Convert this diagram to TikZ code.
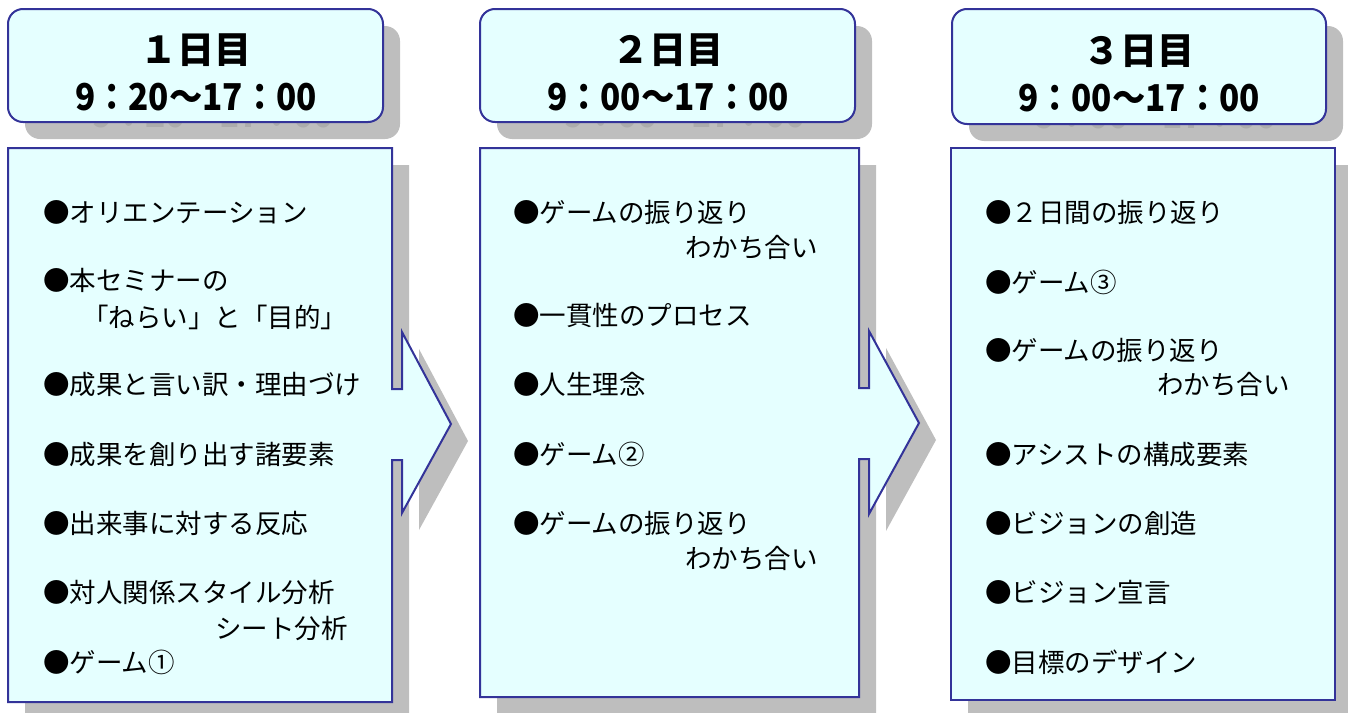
\documentclass[tikz,border=0pt]{standalone}
\usepackage{fontspec}
\usepackage{graphicx}
\setmainfont{Noto Sans CJK JP}
\definecolor{boxfill}{HTML}{E5FFFF}
\definecolor{boxline}{HTML}{333399}
\definecolor{shadowgray}{HTML}{BEBEBE}
\definecolor{ghostgray}{HTML}{ACACAC}
\newcommand{\narrowtime}[1]{\scalebox{0.9}[1]{#1}}
\tikzset{
  shapebox/.style={fill=boxfill, draw=boxline, line width=2pt, line join=miter},
  shadowbox/.style={fill=shadowgray, draw=none},
  headtext/.style={inner sep=0pt, font=\fontsize{37}{44}\selectfont\bfseries, anchor=base},
  itemtext/.style={inner sep=0pt, font=\fontsize{26.5}{32}\selectfont, anchor=base west},
  boxApath/.style={insert path={(8,148) -- (392,148) -- (392,389) -- (402,389) -- (402,332) -- (451,424) -- (402,513) -- (402,460) -- (392,460) -- (392,702) -- (8,702) -- cycle}},
  boxBpath/.style={insert path={(480,148) -- (859,148) -- (859,388) -- (869,388) -- (869,331) -- (919,423) -- (869,514) -- (869,459) -- (859,459) -- (859,697) -- (480,697) -- cycle}},
  boxCpath/.style={insert path={(951,148) -- (1335,148) -- (1335,700) -- (951,700) -- cycle}},
}
\begin{document}
\begin{tikzpicture}[x=1pt,y=-1pt]
\useasboundingbox (0,0) rectangle (1348,712);
% ---- shadows ----
\foreach \l/\r/\b in {8/383/122, 480/855/122, 952/1326/124}{
  \path[shadowbox, rounded corners=15pt] (\l+17,9+17) rectangle (\r+17,\b+17);
}
\path[shadowbox, shift={(17,17)}, boxApath];
\path[shadowbox, shift={(17,17)}, boxBpath];
\path[shadowbox, shift={(17,17)}, boxCpath];
% ghost text shadows of header times
\node[headtext, text=ghostgray] (g1) at (196+17,110+17) {\narrowtime{9：20～17：00}};
\node[headtext, text=ghostgray] (g2) at (668+17,110+17) {\narrowtime{9：00～17：00}};
\node[headtext, text=ghostgray] (g3) at (1139+17,111+17) {\narrowtime{9：00～17：00}};
% ---- headers ----
\path[shapebox, rounded corners=15pt] (8,9) rectangle (383,122);
\path[shapebox, rounded corners=15pt] (480,9) rectangle (855,122);
\path[shapebox, rounded corners=15pt] (952,9) rectangle (1326,124);
\node[headtext] (h1a) at (196,63) {１日目};
\node[headtext] (h1b) at (196,110) {\narrowtime{9：20～17：00}};
\node[headtext] (h2a) at (668,63) {２日目};
\node[headtext] (h2b) at (668,110) {\narrowtime{9：00～17：00}};
\node[headtext] (h3a) at (1139,64) {３日目};
\node[headtext] (h3b) at (1139,111) {\narrowtime{9：00～17：00}};
% ---- content boxes ----
\path[shapebox, boxApath];
\path[shapebox, boxBpath];
\path[shapebox, boxCpath];
% day 1
\node[itemtext] (a1) at (43,222) {●オリエンテーション};
\node[itemtext] (a2) at (43,290) {●本セミナーの};
\node[itemtext] (a2b) at (82,327) {「ねらい」と「目的」};
\node[itemtext] (a3) at (43,394) {●成果と言い訳・理由づけ};
\node[itemtext] (a4) at (43,464) {●成果を創り出す諸要素};
\node[itemtext] (a5) at (43,533) {●出来事に対する反応};
\node[itemtext] (a6) at (43,602) {●対人関係スタイル分析};
\node[itemtext] (a6b) at (215,638) {シート分析};
\node[itemtext] (a7) at (43,672) {●ゲーム①};
% day 2
\node[itemtext] (b1) at (513,222) {●ゲームの振り返り};
\node[itemtext] (b1b) at (685,257) {わかち合い};
\node[itemtext] (b2) at (513,325) {●一貫性のプロセス};
\node[itemtext] (b3) at (513,394) {●人生理念};
\node[itemtext] (b4) at (513,464) {●ゲーム②};
\node[itemtext] (b5) at (513,533) {●ゲームの振り返り};
\node[itemtext] (b5b) at (685,568) {わかち合い};
% day 3
\node[itemtext] (c1) at (985,222) {●２日間の振り返り};
\node[itemtext] (c2) at (985,292) {●ゲーム③};
\node[itemtext] (c3) at (985,360) {●ゲームの振り返り};
\node[itemtext] (c3b) at (1157,394) {わかち合い};
\node[itemtext] (c4) at (985,464) {●アシストの構成要素};
\node[itemtext] (c5) at (985,533) {●ビジョンの創造};
\node[itemtext] (c6) at (985,602) {●ビジョン宣言};
\node[itemtext] (c7) at (985,672) {●目標のデザイン};
\end{tikzpicture}
\end{document}
